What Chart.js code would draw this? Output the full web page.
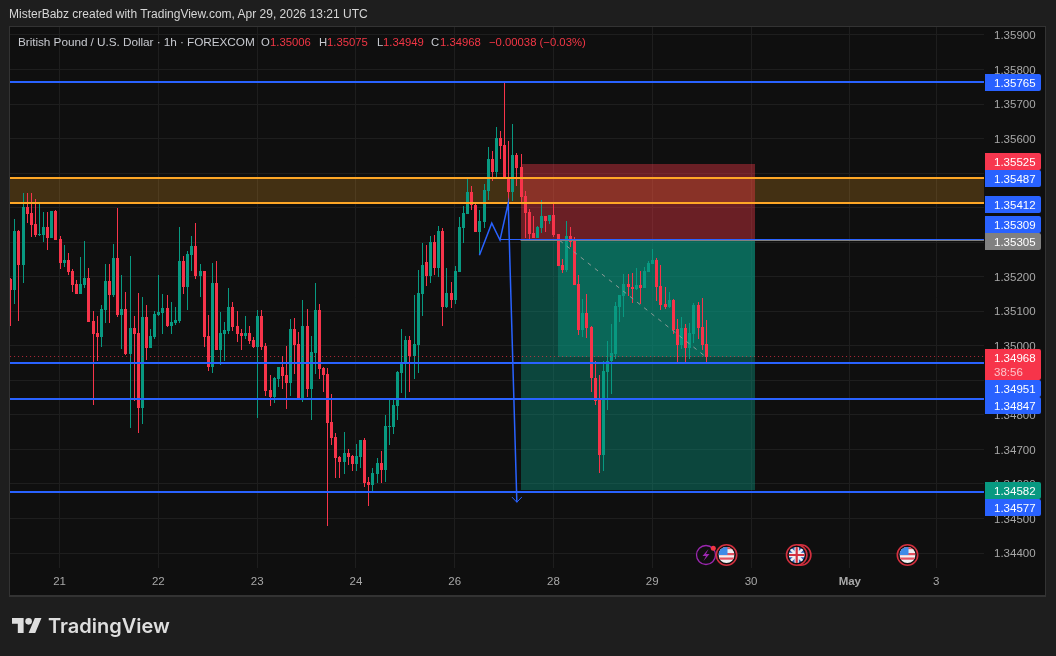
<!DOCTYPE html>
<html>
<head>
<meta charset="utf-8">
<title>GBP/USD 1h</title>
<script src="https://cdn.jsdelivr.net/npm/chart.js@4/dist/chart.umd.min.js"></script>
<style>
  html, body { margin: 0; padding: 0; background: #1e1e1e; overflow: hidden; }
  #wrap { position: relative; width: 1056px; height: 656px; font-family: "Liberation Sans", sans-serif; }
  canvas { position: absolute; left: 0; top: 0; }
  .txt { position: absolute; white-space: nowrap; line-height: 16px; font-size: 11.3px; }
  .grey { color: #c8cad0; }
  .red { color: #f23645; }
  svg.ov { position: absolute; left: 0; top: 0; pointer-events: none; }
</style>
</head>
<body>
<div id="wrap">
  <canvas id="c" width="1056" height="656"></canvas>

  <!-- header -->
  <div class="txt" style="left:9px;top:6px;color:#d6d6d6;font-size:12px">MisterBabz created with TradingView.com, Apr 29, 2026 13:21 UTC</div>

  <!-- ohlc legend -->
  <div class="txt grey" style="left:18px;top:34px;font-size:11.8px;letter-spacing:-0.06px">British Pound / U.S. Dollar · 1h · FOREXCOM</div>
  <div class="txt grey" style="left:261px;top:34px">O</div><div class="txt red" style="left:270px;top:34px">1.35006</div>
  <div class="txt grey" style="left:319px;top:34px">H</div><div class="txt red" style="left:327px;top:34px">1.35075</div>
  <div class="txt grey" style="left:377px;top:34px">L</div><div class="txt red" style="left:383px;top:34px">1.34949</div>
  <div class="txt grey" style="left:431px;top:34px">C</div><div class="txt red" style="left:440px;top:34px">1.34968</div>
  <div class="txt red" style="left:489px;top:34px">−0.00038 (−0.03%)</div>

  <!-- logo -->
  <svg class="ov" width="1056" height="656">
    <g transform="translate(12,614.7) scale(0.83)" fill="#dedede">
      <path d="M14 22H7V11H0V4h14v18zM28 22h-8l7.5-18h8L28 22z"></path>
      <circle cx="20" cy="8" r="4"></circle>
    </g>
    <defs>
      <clipPath id="cpUs"><circle cx="0" cy="0" r="8"></circle></clipPath>
    </defs>
    <!-- event icons -->
    <g transform="translate(706,555)" fill="none">
      <circle r="9.5" stroke="#9c27b0" stroke-width="1.3" fill="#0f0f0f"></circle>
      <path d="M2.5 -6 L-3.5 1 L0 1 L-2.5 6 L3.5 -1 L0 -1 Z" fill="#9c27b0"></path>
      <circle cx="7.3" cy="-6.7" r="2.5" fill="#f23645"></circle>
    </g>
    <g id="us1" transform="translate(726.5,555)">
      <circle r="10.2" fill="#0f0f0f" stroke="#d3303f" stroke-width="1.6"></circle>
      <g clip-path="url(#cpUs)">
        <rect x="-8" y="-8" width="16" height="16" fill="#f0f0f0"></rect>
        <rect x="-8" y="-2" width="16" height="2.2" fill="#e2505e"></rect>
        <rect x="-8" y="2.5" width="16" height="2.2" fill="#e2505e"></rect>
        <rect x="-8" y="-8" width="16" height="2.2" fill="#e2505e"></rect>
        <rect x="-8" y="-8" width="9" height="8" fill="#3d8be8"></rect>
      </g>
    </g>
    <g transform="translate(800.7,555)">
      <circle r="10.2" fill="#0f0f0f" stroke="#d3303f" stroke-width="1.6"></circle>
    </g>
    <g transform="translate(796.7,555)">
      <circle r="10.2" fill="#0f0f0f" stroke="#d3303f" stroke-width="1.6"></circle>
      <g clip-path="url(#cpUs)">
        <rect x="-8" y="-8" width="16" height="16" fill="#2d5fb5"></rect>
        <path d="M-8 -8L8 8M8 -8L-8 8" stroke="#f0f0f0" stroke-width="2.6"></path>
        <path d="M0 -8V8M-8 0H8" stroke="#f0f0f0" stroke-width="4.4"></path>
        <path d="M0 -8V8M-8 0H8" stroke="#d3303f" stroke-width="2.2"></path>
      </g>
    </g>
    <g transform="translate(907.5,555)">
      <circle r="10.2" fill="#0f0f0f" stroke="#d3303f" stroke-width="1.6"></circle>
      <g clip-path="url(#cpUs)">
        <rect x="-8" y="-8" width="16" height="16" fill="#f0f0f0"></rect>
        <rect x="-8" y="-2" width="16" height="2.2" fill="#e2505e"></rect>
        <rect x="-8" y="2.5" width="16" height="2.2" fill="#e2505e"></rect>
        <rect x="-8" y="-8" width="16" height="2.2" fill="#e2505e"></rect>
        <rect x="-8" y="-8" width="9" height="8" fill="#3d8be8"></rect>
      </g>
    </g>
  </svg>
  <div class="txt" style="left:48px;top:613px;font-family:Inter,sans-serif;font-weight:600;font-size:20px;line-height:26px;color:#dedede">TradingView</div>
</div>

<script>
  // GBP/USD 1h candles
  const opens = [
    1.35193,1.35161,1.35332,1.35234,1.35402,1.35384,1.35352,1.35321,1.35321,1.35344,
    1.35312,1.35390,1.35309,1.35239,1.35248,1.35216,1.35178,1.35149,1.35176,1.35196,
    1.35071,1.35037,1.35025,1.35103,1.35187,1.35146,1.35254,1.35089,1.35106,1.34975,
    1.35051,1.35037,1.34820,1.35083,1.34993,1.35025,1.35089,1.35094,1.35109,1.35057,
    1.35065,1.35071,1.35245,1.35170,1.35262,1.35289,1.35202,1.35216,1.35028,1.34938,
    1.35181,1.34987,1.35034,1.35042,1.35112,1.35057,1.35037,1.35028,1.35037,1.35016,
    1.34996,1.35086,1.34999,1.34872,1.34851,1.34904,1.34938,1.34915,1.34892,1.35048,
    1.35005,1.34843,1.35057,1.34875,1.34979,1.35103,1.34935,1.34918,1.34779,1.34736,
    1.34678,1.34663,1.34689,1.34681,1.34657,1.34678,1.34727,1.34605,1.34596,1.34629,
    1.34660,1.34640,1.34764,1.34764,1.34825,1.34921,1.34949,1.35016,1.34970,1.35002,
    1.35149,1.35242,1.35202,1.35300,1.35225,1.35332,1.35112,1.35152,1.35132,1.35213,
    1.35341,1.35381,1.35445,1.35407,1.35329,1.35358,1.35448,1.35541,1.35503,1.35601,
    1.35581,1.35486,1.35445,1.35552,1.35517,1.35433,1.35387,1.35326,1.35312,1.35341,
    1.35375,1.35361,1.35378,1.35323,1.35234,1.35219,1.35318,1.35303,1.35178,1.35045,
    1.35094,1.35054,1.34906,1.34843,1.34684,1.34923,1.34955,1.34975,1.35112,1.35143,
    1.35178,1.35170,1.35164,1.35176,1.35167,1.35213,1.35236,1.35248,1.35173,1.35120,
    1.35112,1.35132,1.35048,1.35002,1.35051,1.34993,1.35034,1.35118,1.35054,1.35006
  ];
  const highs = [
    1.35196,1.35367,1.35335,1.35442,1.35442,1.35442,1.35425,1.35416,1.35387,1.35387,
    1.35390,1.35393,1.35318,1.35291,1.35268,1.35222,1.35190,1.35257,1.35303,1.35225,
    1.35100,1.35086,1.35118,1.35236,1.35236,1.35294,1.35399,1.35205,1.35155,1.35260,
    1.35086,1.35152,1.35141,1.35118,1.35048,1.35100,1.35205,1.35149,1.35146,1.35126,
    1.35112,1.35344,1.35260,1.35274,1.35318,1.35355,1.35236,1.35216,1.35089,1.35239,
    1.35245,1.35097,1.35068,1.35167,1.35126,1.35100,1.35048,1.35086,1.35057,1.35025,
    1.35103,1.35103,1.35008,1.34915,1.34909,1.34938,1.34970,1.34999,1.35077,1.35080,
    1.35040,1.35132,1.35106,1.35028,1.35181,1.35120,1.34938,1.34935,1.34860,1.34747,
    1.34681,1.34750,1.34701,1.34684,1.34716,1.34727,1.34733,1.34620,1.34646,1.34675,
    1.34695,1.34799,1.34843,1.34843,1.34926,1.35048,1.35028,1.35028,1.35146,1.35219,
    1.35297,1.35291,1.35318,1.35321,1.35347,1.35341,1.35225,1.35184,1.35231,1.35373,
    1.35405,1.35486,1.35462,1.35410,1.35393,1.35468,1.35575,1.35564,1.35633,1.35622,
    1.35761,1.35593,1.35642,1.35558,1.35555,1.35448,1.35396,1.35375,1.35347,1.35422,
    1.35375,1.35378,1.35413,1.35323,1.35251,1.35361,1.35344,1.35315,1.35205,1.35135,
    1.35149,1.35057,1.34955,1.34915,1.34955,1.35013,1.35062,1.35126,1.35146,1.35207,
    1.35207,1.35210,1.35225,1.35216,1.35228,1.35245,1.35280,1.35254,1.35234,1.35170,
    1.35155,1.35135,1.35077,1.35083,1.35062,1.35065,1.35123,1.35126,1.35138,1.35075
  ];
  const lows = [
    1.35057,1.35120,1.35071,1.35181,1.35355,1.35315,1.35315,1.35318,1.35300,1.35277,
    1.35312,1.35306,1.35222,1.35228,1.35205,1.35155,1.35149,1.35149,1.35167,1.35068,
    1.34829,1.34955,1.34996,1.35065,1.35065,1.35141,1.35083,1.34990,1.34972,1.34762,
    1.34840,1.34747,1.34773,1.34958,1.34993,1.35019,1.35086,1.35034,1.35054,1.35034,
    1.35060,1.35065,1.35149,1.35103,1.35216,1.35193,1.35141,1.34996,1.34926,1.34921,
    1.34987,1.34944,1.34955,1.35034,1.35042,1.35010,1.34987,1.35019,1.35005,1.34993,
    1.34791,1.34987,1.34854,1.34825,1.34834,1.34880,1.34875,1.34817,1.34854,1.34918,
    1.34843,1.34837,1.34851,1.34785,1.34918,1.34904,1.34866,1.34478,1.34712,1.34617,
    1.34617,1.34629,1.34655,1.34637,1.34637,1.34646,1.34591,1.34536,1.34576,1.34602,
    1.34602,1.34605,1.34712,1.34744,1.34785,1.34863,1.34848,1.34866,1.34904,1.34921,
    1.35086,1.35173,1.35181,1.35205,1.35199,1.35057,1.35109,1.35109,1.35120,1.35213,
    1.35297,1.35381,1.35393,1.35329,1.35262,1.35341,1.35422,1.35477,1.35483,1.35541,
    1.35483,1.35373,1.35419,1.35462,1.35416,1.35312,1.35309,1.35312,1.35312,1.35326,
    1.35329,1.35352,1.35315,1.35231,1.35210,1.35213,1.35286,1.35176,1.35031,1.35025,
    1.35022,1.34866,1.34829,1.34631,1.34637,1.34814,1.34860,1.34961,1.35068,1.35083,
    1.35143,1.35123,1.35161,1.35120,1.35167,1.35213,1.35236,1.35129,1.35103,1.35106,
    1.35109,1.35034,1.34949,1.34990,1.34949,1.34961,1.35008,1.35019,1.34987,1.34949
  ];
  const closes = [
    1.35161,1.35332,1.35234,1.35402,1.35381,1.35350,1.35321,1.35323,1.35344,1.35312,
    1.35390,1.35306,1.35239,1.35248,1.35213,1.35176,1.35149,1.35178,1.35196,1.35068,
    1.35034,1.35025,1.35106,1.35187,1.35146,1.35254,1.35089,1.35106,1.34975,1.35051,
    1.35034,1.34820,1.35083,1.34993,1.35028,1.35092,1.35097,1.35109,1.35057,1.35068,
    1.35074,1.35245,1.35170,1.35265,1.35289,1.35202,1.35216,1.35025,1.34938,1.35181,
    1.34987,1.35037,1.35045,1.35112,1.35054,1.35034,1.35028,1.35037,1.35013,1.34996,
    1.35086,1.34996,1.34869,1.34851,1.34906,1.34938,1.34912,1.34892,1.35048,1.35002,
    1.34843,1.35057,1.34875,1.34982,1.35103,1.34932,1.34915,1.34776,1.34733,1.34675,
    1.34663,1.34689,1.34678,1.34657,1.34681,1.34727,1.34602,1.34596,1.34631,1.34660,
    1.34640,1.34767,1.34767,1.34829,1.34923,1.34952,1.35016,1.34970,1.35005,1.35152,
    1.35234,1.35202,1.35300,1.35225,1.35332,1.35112,1.35152,1.35132,1.35216,1.35344,
    1.35384,1.35445,1.35407,1.35329,1.35361,1.35451,1.35541,1.35503,1.35601,1.35578,
    1.35483,1.35445,1.35552,1.35514,1.35430,1.35384,1.35323,1.35312,1.35344,1.35375,
    1.35361,1.35378,1.35321,1.35231,1.35219,1.35318,1.35300,1.35176,1.35045,1.35094,
    1.35051,1.34906,1.34840,1.34684,1.34926,1.34955,1.34979,1.35115,1.35146,1.35178,
    1.35170,1.35164,1.35176,1.35167,1.35216,1.35239,1.35248,1.35170,1.35118,1.35112,
    1.35132,1.35045,1.35002,1.35051,1.34993,1.35037,1.35118,1.35051,1.35002,1.34968
  ];

  // axes
  const yTicks = [1.359,1.358,1.357,1.356,1.355,1.354,1.353,1.352,1.351,1.35,1.349,1.348,1.347,1.346,1.345,1.344];
  const dayTicks = [12,36,60,84,108,132,156,180,204,225];
  const dayLabels = ['21','22','23','24','26','28','29','30','May','3'];

  // drawn levels
  const blueLevels = [1.35765, 1.34951, 1.34847, 1.34577];
  const bandLevels = [1.35487, 1.35412];
  const entryLevel = 1.35305, stopLevel = 1.35525, targetLevel = 1.34582, lastClose = 1.34968;
  const entryBlue = 1.35309;
  const zigzagX = [114, 117, 119, 121, 123.1];
  const zigzagY = [1.35262, 1.35355, 1.35306, 1.35413, 1.34547];
  const arrowX = [121.9, 123.1, 124.3];
  const arrowY = [1.34562, 1.34547, 1.34562];

  // axis tags
  const tagText = ['1.35765','1.35525','1.35487','1.35412','1.35309','1.35305','1.34951','1.34847','1.34582','1.34577'];
  const tagColor = ['#2962ff','#f7374f','#2962ff','#2962ff','#2962ff','#808080','#2962ff','#2962ff','#089981','#2962ff'];
  const tagTop = [74,153,170,196,216,233,380,397,482,499];

  const xEnd = 236.6;
  const UP = '#089981', DOWN = '#f7344a';
  const idx = opens.map((_, i) => i);
  const cols = idx.map(i => closes[i] >= opens[i] ? UP : DOWN);

  function flat(y, from, to) { return [{x: from, y: y}, {x: to, y: y}]; }
  function lineDs(data, color, width, dash) {
    return { type: 'line', data: data, borderColor: color, borderWidth: width, borderDash: dash || [],
             pointRadius: 0, fill: false, tension: 0, order: 0 };
  }

  const datasets = [
    { type: 'bar', label: 'wick', data: idx.map(i => ({x: i, y: [lows[i], highs[i]]})),
      backgroundColor: cols, barThickness: 1, inflateAmount: 0, grouped: false, order: 3 },
    { type: 'bar', label: 'body', data: idx.map(i => ({x: i, y: [opens[i], closes[i]]})),
      backgroundColor: cols, barThickness: 3, inflateAmount: 0, minBarLength: 1, grouped: false, order: 2 },
    lineDs(flat(lastClose, -1, xEnd), 'rgba(247,52,74,0.7)', 1, [1, 3]),
    lineDs(flat(entryLevel, 124, xEnd), '#808080', 1),
    lineDs(flat(entryBlue, 119, xEnd), '#2962ff', 1),
    lineDs([{x: 133.5, y: entryLevel}, {x: 169, y: lastClose}], '#8a9a96', 1, [4, 5]),
    lineDs(zigzagX.map((x, i) => ({x: x, y: zigzagY[i]})), '#2962ff', 1.5),
    lineDs(arrowX.map((x, i) => ({x: x, y: arrowY[i]})), '#2962ff', 1)
  ];
  blueLevels.forEach(v => datasets.push(lineDs(flat(v, -1, xEnd), '#2962ff', 2)));
  bandLevels.forEach(v => datasets.push(lineDs(flat(v, -1, xEnd), '#ffa726', 2)));

  // panel background, orange band, long position box
  const backdrop = {
    id: 'backdrop',
    // snap the marks to whole pixels so candles stay crisp
    afterDatasetsUpdate(chart) {
      chart.data.datasets.forEach((ds, i) => {
        const els = chart.getDatasetMeta(i).data;
        if (ds.type === 'bar') {
          els.forEach(el => {
            el.x = Math.round(el.x) + 0.5;
            el.y = Math.round(el.y);
            el.base = Math.round(el.base);
            if (el.y === el.base) el.base += 1;
          });
        } else if (els.length === 2 && els[0].y === els[1].y) {
          const off = ds.borderWidth % 2 ? 0.5 : 0;
          els.forEach(el => { el.y = Math.round(el.y - off) + off; });
        }
      });
    },
    beforeDraw(chart) {
      const g = chart.ctx;
      g.save();
      g.fillStyle = '#333333';
      g.fillRect(9, 26, 1037, 571);
      g.fillStyle = '#0f0f0f';
      g.fillRect(10, 27, 1035, 568);
      g.restore();
    },
    beforeDatasetsDraw(chart) {
      const g = chart.ctx, xs = chart.scales.x, ys = chart.scales.y, a = chart.chartArea;
      const box = (x0, x1, p0, p1, color) => {
        const l = Math.round(xs.getPixelForValue(x0)), r = Math.round(xs.getPixelForValue(x1));
        const t = Math.round(ys.getPixelForValue(p0)), b = Math.round(ys.getPixelForValue(p1));
        g.fillStyle = color;
        g.fillRect(l, t, r - l, b - t);
      };
      g.save();
      g.beginPath(); g.rect(a.left, a.top, a.right - a.left, a.bottom - a.top); g.clip();
      box(-1, xEnd, bandLevels[0], bandLevels[1], 'rgba(255,167,38,0.22)');
      box(124.1, 180.9, stopLevel, entryLevel, 'rgba(242,54,69,0.4)');
      box(124.1, 180.9, entryLevel, targetLevel, 'rgba(8,153,129,0.4)');
      box(133.1, 180.9, entryLevel, lastClose, 'rgba(8,153,129,0.4)');
      g.restore();
    },
    afterDraw(chart) {
      const g = chart.ctx;
      g.save();
      g.textBaseline = 'middle';
      g.textAlign = 'left';
      const tag = (top, h, color) => {
        g.fillStyle = color;
        g.beginPath();
        g.roundRect(985, top, 56, h, [0, 2, 2, 0]);
        g.fill();
      };
      tagText.forEach((t, i) => {
        tag(tagTop[i], 17, tagColor[i]);
        g.fillStyle = '#ffffff';
        g.font = '11.5px "Liberation Sans"';
        g.fillText(t, 994, tagTop[i] + 9.5);
      });
      tag(349, 31, DOWN);
      g.fillStyle = '#ffffff';
      g.font = '11.5px "Liberation Sans"';
      g.fillText(lastClose.toFixed(5), 994, 358.5);
      g.fillStyle = 'rgba(255,255,255,0.7)';
      g.fillText('38:56', 994, 372.5);
      g.restore();
    }
  };

  Chart.defaults.font.family = '"Liberation Sans", sans-serif';
  Chart.defaults.font.size = 12;

  new Chart(document.getElementById('c').getContext('2d'), {
    type: 'bar',
    data: { datasets: datasets },
    plugins: [backdrop],
    options: {
      responsive: false,
      animation: false,
      devicePixelRatio: 1,
      layout: { padding: { left: 10, top: 27, right: 11, bottom: 60 } },
      plugins: { legend: { display: false }, tooltip: { enabled: false }, title: { display: false } },
      scales: {
        x: {
          type: 'linear', min: -0.05, max: xEnd, offset: false,
          afterBuildTicks(s) { s.ticks = dayTicks.map(v => ({value: v})); },
          afterFit(s) { s.height = 28; },
          grid: { color: '#1e1e1e', drawTicks: false, offset: false },
          border: { display: false },
          ticks: {
            autoSkip: false, maxRotation: 0, padding: 7, color: '#a8a8a8',
            font: c => ({ size: 11.5, weight: c.tick && dayLabels[dayTicks.indexOf(c.tick.value)] === 'May' ? 'bold' : 'normal' }),
            callback: v => dayLabels[dayTicks.indexOf(v)]
          }
        },
        y: {
          position: 'right', min: 1.343566, max: 1.35923,
          afterBuildTicks(s) { s.ticks = yTicks.map(v => ({value: v})); },
          afterFit(s) { s.width = 61; },
          grid: { color: '#1e1e1e', drawTicks: false },
          border: { display: false },
          ticks: { padding: 10, labelOffset: 1, color: '#a8a8a8', font: { size: 11.5 }, callback: v => v.toFixed(5) }
        }
      }
    }
  });
</script>
</body>
</html>
